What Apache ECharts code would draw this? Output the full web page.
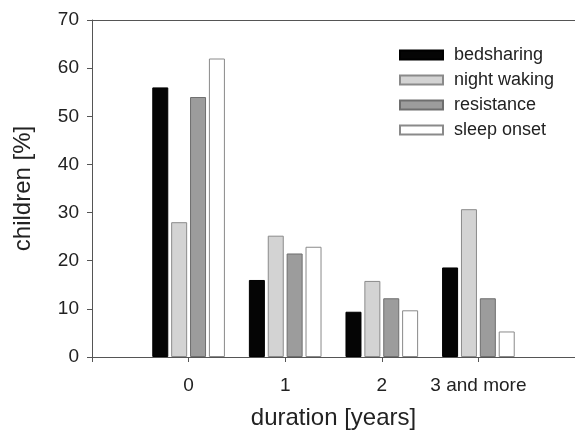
<!DOCTYPE html>
<html>
<head>
<meta charset="utf-8">
<script src="https://cdn.jsdelivr.net/npm/echarts@6/dist/echarts.min.js"></script>
<style>html,body{margin:0;padding:0;background:#fff;}#c{width:575px;height:432px;}</style>
</head>
<body>
<div id="c"></div>
<script>
// categories (leading/trailing blanks pad the axis as in the original)
const categories = ['', '0', '1', '2', '3 and more', ' '];
const seriesNames = ['bedsharing', 'night waking', 'resistance', 'sleep onset'];
const bedsharing  = [null, 56, 16, 9.4, 18.6, null];
const nightWaking = [null, 28, 25.2, 15.8, 30.7, null];
const resistance  = [null, 54, 21.5, 12.2, 12.2, null];
const sleepOnset  = [null, 62, 22.9, 9.7, 5.3, null];
const yTicks = [0, 10, 20, 30, 40, 50, 60, 70];

const fills = ['#050505', '#d3d3d3', '#9c9c9c', '#ffffff'];
const borders = ['#000000', '#8a8a8a', '#6e6e6e', '#8a8a8a'];
const values = [bedsharing, nightWaking, resistance, sleepOnset];

const font = 'Liberation Sans, Arial, sans-serif';
const chart = echarts.init(document.getElementById('c'), null, {renderer: 'canvas'});
chart.setOption({
  animation: false,
  backgroundColor: '#ffffff',
  textStyle: {fontFamily: font},
  grid: {left: 92, right: 0, top: 20, bottom: 75, containLabel: false, outerBoundsMode: 'none'},
  legend: {
    orient: 'vertical',
    left: 399,
    top: 45,
    padding: 0,
    itemWidth: 43,
    itemHeight: 9,
    itemGap: 5,
    icon: 'rect',
    textStyle: {fontFamily: font, fontSize: 18, color: '#222', lineHeight: 20, padding: [0, 0, 0, 6]},
    data: seriesNames
  },
  xAxis: [{
    type: 'category',
    data: categories,
    boundaryGap: false,
    name: 'duration [years]',
    nameLocation: 'middle',
    nameGap: 49,
    nameTextStyle: {fontFamily: font, fontSize: 24, color: '#222'},
    axisLine: {lineStyle: {color: '#555', width: 1}},
    axisTick: {show: true, length: 5, inside: false, lineStyle: {color: '#555'}},
    axisLabel: {fontFamily: font, fontSize: 19, color: '#222', margin: 19, interval: 0},
    splitLine: {show: false}
  }, {
    type: 'category',
    data: categories,
    position: 'top',
    boundaryGap: false,
    axisLine: {show: true, onZero: false, lineStyle: {color: '#555', width: 1}},
    axisTick: {show: false},
    axisLabel: {show: false},
    splitLine: {show: false}
  }],
  yAxis: {
    type: 'value',
    min: yTicks[0],
    max: yTicks[yTicks.length - 1],
    interval: 10,
    name: 'children [%]',
    nameLocation: 'middle',
    nameGap: 57,
    nameTextStyle: {fontFamily: font, fontSize: 24, color: '#222'},
    axisLine: {show: true, lineStyle: {color: '#555', width: 1}},
    axisTick: {show: true, length: 5, lineStyle: {color: '#555'}},
    axisLabel: {fontFamily: font, fontSize: 19, color: '#222', margin: 13},
    splitLine: {show: false}
  },
  series: seriesNames.map((n, i) => ({
    name: n,
    type: 'bar',
    xAxisIndex: 0,
    data: values[i],
    barWidth: 16,
    barGap: '18%',
    itemStyle: {color: fills[i], borderColor: borders[i], borderWidth: 1}
  }))
});
</script>
</body>
</html>
